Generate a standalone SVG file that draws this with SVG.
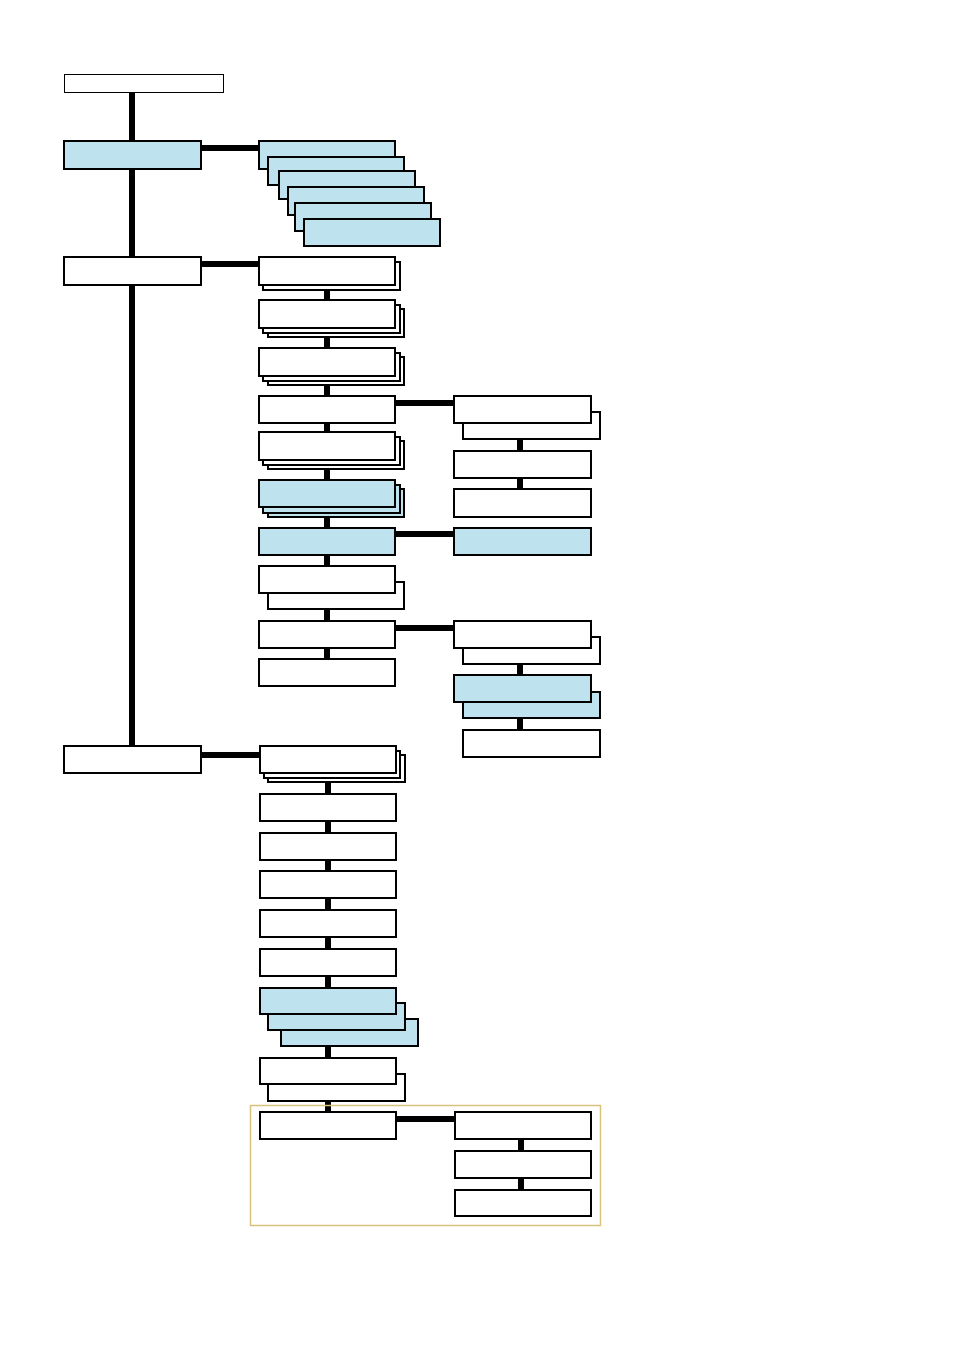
<svg xmlns="http://www.w3.org/2000/svg" width="954" height="1350" viewBox="0 0 954 1350">
<style>
.w{fill:#ffffff;stroke:#000;stroke-width:2}
.b{fill:#bfe3ee;stroke:#000;stroke-width:2}
.ws{fill:#ffffff;stroke:#000;stroke-width:2}
.bs{fill:#bfe3ee;stroke:#000;stroke-width:2}
.c{stroke:#000;stroke-width:6;fill:none}
.t{stroke:#000;stroke-width:1;fill:#fff}
</style>
<rect width="954" height="1350" fill="#fff"/>
<g id="connectors">
<line class="c" x1="132" y1="92" x2="132" y2="746"/>
<line class="c" x1="201" y1="148" x2="259" y2="148"/>
<line class="c" x1="201" y1="264" x2="259" y2="264"/>
<line class="c" x1="201" y1="755" x2="260" y2="755"/>
<line class="c" x1="395" y1="403" x2="454" y2="403"/>
<line class="c" x1="395" y1="534" x2="454" y2="534"/>
<line class="c" x1="395" y1="628" x2="454" y2="628"/>
<line class="c" x1="396" y1="1119" x2="455" y2="1119"/>
<line class="c" x1="327" y1="285" x2="327" y2="300"/>
<line class="c" x1="327" y1="328" x2="327" y2="348"/>
<line class="c" x1="327" y1="376" x2="327" y2="396"/>
<line class="c" x1="327" y1="423" x2="327" y2="432"/>
<line class="c" x1="327" y1="460" x2="327" y2="480"/>
<line class="c" x1="327" y1="507" x2="327" y2="528"/>
<line class="c" x1="327" y1="555" x2="327" y2="566"/>
<line class="c" x1="327" y1="593" x2="327" y2="621"/>
<line class="c" x1="327" y1="648" x2="327" y2="659"/>
<line class="c" x1="520" y1="423" x2="520" y2="450"/>
<line class="c" x1="520" y1="478" x2="520" y2="488"/>
<line class="c" x1="520" y1="648" x2="520" y2="675"/>
<line class="c" x1="520" y1="702" x2="520" y2="730"/>
<line class="c" x1="328" y1="773" x2="328" y2="794"/>
<line class="c" x1="328" y1="821" x2="328" y2="832"/>
<line class="c" x1="328" y1="860" x2="328" y2="870"/>
<line class="c" x1="328" y1="898" x2="328" y2="910"/>
<line class="c" x1="328" y1="937" x2="328" y2="948"/>
<line class="c" x1="328" y1="976" x2="328" y2="987"/>
<line class="c" x1="328" y1="1014" x2="328" y2="1057"/>
<line class="c" x1="328" y1="1084" x2="328" y2="1111"/>
<line class="c" x1="521" y1="1139" x2="521" y2="1150"/>
<line class="c" x1="521" y1="1178" x2="521" y2="1189"/>
</g>
<g id="group-frame"><rect x="250.5" y="1105.5" width="350" height="120" fill="none" stroke="#d9c27c" stroke-width="1.5"/></g>
<g id="n-root"><rect class="t" x="64.5" y="74.5" width="159" height="18"/></g>
<g id="n-a"><rect class="b" x="64" y="141" width="137" height="28"/></g>
<g id="n-a-stack">
<rect class="b" x="259" y="141" width="136" height="28"/>
<rect class="b" x="268" y="157" width="136" height="28"/>
<rect class="b" x="279" y="171" width="136" height="28"/>
<rect class="bs" x="288" y="187" width="136" height="28"/>
<rect class="bs" x="295" y="203" width="136" height="28"/>
<rect class="b" x="304" y="219" width="136" height="27"/>
</g>
<g id="n-b"><rect class="w" x="64" y="257" width="137" height="28"/></g>
<g id="n-b1"><rect class="ws" x="263" y="262" width="137" height="28"/><rect class="w" x="259" y="257" width="136" height="28"/></g>
<g id="n-b2"><rect class="ws" x="268" y="309" width="136" height="28"/><rect class="ws" x="263" y="305" width="137" height="28"/><rect class="w" x="259" y="300" width="136" height="28"/></g>
<g id="n-b3"><rect class="ws" x="268" y="357" width="136" height="28"/><rect class="ws" x="263" y="353" width="137" height="28"/><rect class="w" x="259" y="348" width="136" height="28"/></g>
<g id="n-b4"><rect class="w" x="259" y="396" width="136" height="27"/></g>
<g id="n-b4r"><rect class="w" x="463" y="412" width="137" height="27"/><rect class="w" x="454" y="396" width="137" height="27"/></g>
<g id="n-b4r2"><rect class="w" x="454" y="451" width="137" height="27"/></g>
<g id="n-b4r3"><rect class="w" x="454" y="489" width="137" height="28"/></g>
<g id="n-b5"><rect class="ws" x="268" y="441" width="136" height="28"/><rect class="ws" x="263" y="437" width="137" height="28"/><rect class="w" x="259" y="432" width="136" height="28"/></g>
<g id="n-b6"><rect class="bs" x="268" y="489" width="136" height="28"/><rect class="bs" x="263" y="485" width="137" height="28"/><rect class="b" x="259" y="480" width="136" height="27"/></g>
<g id="n-b7"><rect class="b" x="259" y="528" width="136" height="27"/></g>
<g id="n-b7r"><rect class="b" x="454" y="528" width="137" height="27"/></g>
<g id="n-b8"><rect class="ws" x="268" y="582" width="136" height="27"/><rect class="w" x="259" y="566" width="136" height="27"/></g>
<g id="n-b9"><rect class="w" x="259" y="621" width="136" height="27"/></g>
<g id="n-b9r"><rect class="w" x="463" y="637" width="137" height="27"/><rect class="w" x="454" y="621" width="137" height="27"/></g>
<g id="n-b9r2"><rect class="b" x="463" y="692" width="137" height="26"/><rect class="bs" x="454" y="675" width="137" height="27"/></g>
<g id="n-b9r3"><rect class="w" x="463" y="730" width="137" height="27"/></g>
<g id="n-b10"><rect class="ws" x="259" y="659" width="136" height="27"/></g>
<g id="n-c"><rect class="w" x="64" y="746" width="137" height="27"/></g>
<g id="n-c1"><rect class="ws" x="268" y="755" width="137" height="27"/><rect class="ws" x="264" y="751" width="136" height="27"/><rect class="w" x="260" y="746" width="136" height="27"/></g>
<g id="n-c2"><rect class="w" x="260" y="794" width="136" height="27"/></g>
<g id="n-c3"><rect class="w" x="260" y="833" width="136" height="27"/></g>
<g id="n-c4"><rect class="w" x="260" y="871" width="136" height="27"/></g>
<g id="n-c5"><rect class="w" x="260" y="910" width="136" height="27"/></g>
<g id="n-c6"><rect class="ws" x="260" y="949" width="136" height="27"/></g>
<g id="n-c7"><rect class="b" x="281" y="1019" width="137" height="27"/><rect class="b" x="268" y="1003" width="137" height="27"/><rect class="b" x="260" y="988" width="136" height="26"/></g>
<g id="n-c8"><rect class="w" x="268" y="1074" width="137" height="27"/><rect class="w" x="260" y="1058" width="136" height="26"/></g>
<g id="n-c9"><rect class="w" x="260" y="1112" width="136" height="27"/></g>
<g id="n-c9r1"><rect class="w" x="455" y="1112" width="136" height="27"/></g>
<g id="n-c9r2"><rect class="w" x="455" y="1151" width="136" height="27"/></g>
<g id="n-c9r3"><rect class="ws" x="455" y="1190" width="136" height="26"/></g>
</svg>
